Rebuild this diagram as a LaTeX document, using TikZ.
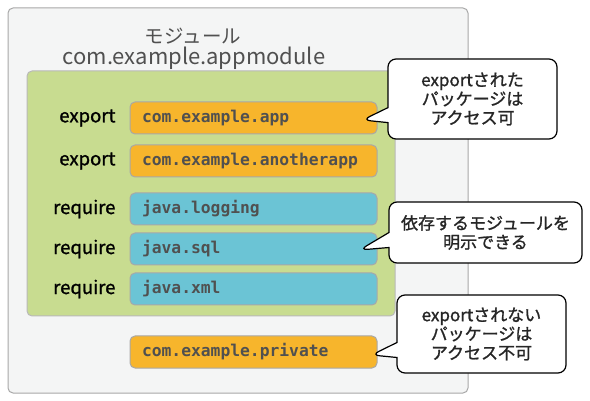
\documentclass[tikz,border=0pt]{standalone}
\usepackage{fontspec}
\setmainfont{Noto Sans CJK JP}
\setmonofont{DejaVu Sans Mono}
\newfontfamily\medfont{Noto Sans CJK JP}[FakeBold=1.2]
\usepackage{xcolor}
\usetikzlibrary{positioning,shapes.callouts,calc}

\definecolor{modbg}{HTML}{F4F5F5}
\definecolor{modline}{HTML}{A8A8A8}
\definecolor{expgreen}{HTML}{C8DC90}
\definecolor{pkgorange}{HTML}{F7B52C}
\definecolor{pkgblue}{HTML}{6BC4D5}
\definecolor{textgray}{HTML}{505050}

\begin{document}
\begin{tikzpicture}[x=1pt, y=-1pt,
  pkgbox/.style={draw=modline, line width=1pt, rounded corners=5pt,
    minimum width=247pt, minimum height=32pt, inner xsep=12pt, text width=223pt,
    align=left, font=\ttfamily\bfseries\fontsize{16.3}{18}\selectfont, text=textgray},
  exppkg/.style={pkgbox, fill=pkgorange},
  reqpkg/.style={pkgbox, fill=pkgblue},
  keyword/.style={anchor=east, font=\medfont\fontsize{18.5}{20}\selectfont},
  titletext/.style={anchor=base, inner sep=0pt, text=textgray},
  balloon/.style={rectangle callout, draw, fill=white, line width=1.2pt,
    rounded corners=8pt, callout pointer width=15pt, align=center,
    font=\medfont\fontsize{17}{19}\selectfont, text=black!85},
]
\useasboundingbox (0,0) rectangle (590,401);

% ===== Module =====
\node[draw=modline, fill=modbg, line width=1pt, rounded corners=5pt,
  minimum width=460pt, minimum height=385pt] (module) at (238,200.5) {};
\node[titletext, font=\fontsize{19.5}{20}\selectfont] (title) at (193,44) {モジュール};
\node[titletext, font=\fontsize{22}{24}\selectfont] (modname) at (194,65) {com.example.appmodule};
\node[draw=modline!80, fill=expgreen, line width=1pt, rounded corners=5pt,
  minimum width=368pt, minimum height=245pt] (body) at (211,193.5) {};

% ===== Packages =====
\node[exppkg] (app) at (253.5,118) {com.example.app};
\node[exppkg] (another) at (253.5,161) {com.example.anotherapp};
\node[reqpkg] (logging) at (253.5,209) {java.logging};
\node[reqpkg] (sql) at (253.5,249) {java.sql};
\node[reqpkg] (xml) at (253.5,289) {java.xml};
\node[exppkg] (private) at (253.5,352) {com.example.private};

\node[keyword] (kapp) at (119,118) {export};
\node[keyword] (kanother) at (119,161) {export};
\node[keyword] (klogging) at (119,209) {require};
\node[keyword] (ksql) at (119,249) {require};
\node[keyword] (kxml) at (119,289) {require};

% ===== Balloons =====
\node[balloon, minimum width=169pt, minimum height=80pt,
  callout absolute pointer={($(app.east)+(-15pt,-2pt)$)}] (note1) at (472.5,99)
  {exportされた\\パッケージは\\アクセス可};
\node[balloon, minimum width=193pt, minimum height=61pt,
  callout absolute pointer={($(sql.east)+(-18pt,-1pt)$)}] (note2) at (485.5,232.5)
  {依存するモジュールを\\明示できる};
\node[balloon, minimum width=169pt, minimum height=78pt,
  callout absolute pointer={($(private.east)+(-6pt,-3pt)$)}] (note3) at (481.5,334)
  {exportされない\\パッケージは\\アクセス不可};

\end{tikzpicture}
\end{document}
